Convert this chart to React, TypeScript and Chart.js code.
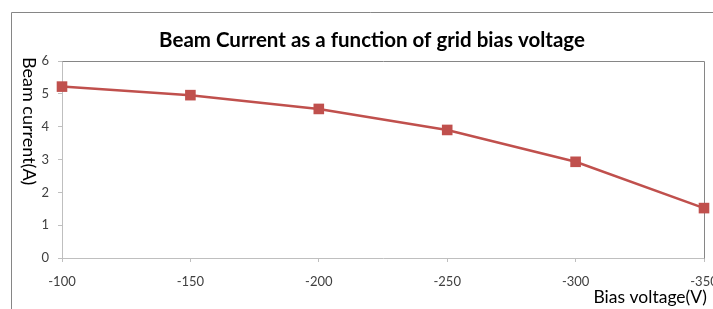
import React, { useEffect, useRef } from "react";
import { Chart, registerables } from "chart.js";

Chart.register(...registerables);

const biasVoltage = [-100, -150, -200, -250, -300, -350];
const beamCurrent = [5.22, 4.96, 4.54, 3.9, 2.93, 1.52];
const xMin = -350;
const xMax = -100;
const xStep = 50;
const yMin = 0;
const yMax = 6;
const yStep = 1;
const chartTitle = "Beam Current as a function of grid bias voltage";
const yAxisTitle = "Beam current(A)";
const xAxisTitle = "Bias voltage(V)";

const FONT = "Lato, 'Open Sans', sans-serif";

const decoPlugin = {
  id: "deco",
  beforeDraw(chart: any) {
    const ctx = chart.ctx;
    ctx.save();
    ctx.fillStyle = "#ffffff";
    ctx.fillRect(0, 0, chart.width, chart.height);
    ctx.strokeStyle = "#868686";
    ctx.lineWidth = 1;
    ctx.beginPath();
    ctx.moveTo(11.5, chart.height);
    ctx.lineTo(11.5, 12.5);
    ctx.lineTo(chart.width, 12.5);
    ctx.stroke();
    ctx.restore();
  },
  beforeDatasetsDraw(chart: any) {
    const ctx = chart.ctx;
    const a = chart.chartArea;
    ctx.save();
    // plot area border (top and right)
    ctx.strokeStyle = "#868686";
    ctx.lineWidth = 1;
    ctx.beginPath();
    ctx.moveTo(Math.round(a.left) + 0.5, Math.round(a.top) + 0.5);
    ctx.lineTo(Math.round(a.right) + 0.5, Math.round(a.top) + 0.5);
    ctx.lineTo(Math.round(a.right) + 0.5, Math.round(a.bottom) + 0.5);
    ctx.stroke();
    ctx.restore();
  },
  afterDraw(chart: any) {
    const ctx = chart.ctx;
    ctx.save();
    // title
    ctx.fillStyle = "#000000";
    ctx.font = `bold 20.5px ${FONT}`;
    ctx.textAlign = "center";
    ctx.textBaseline = "alphabetic";
    ctx.fillText(chartTitle, 372, 47);

    // y axis title rotated clockwise
    ctx.save();
    ctx.translate(29, 57);
    ctx.rotate(Math.PI / 2);
    ctx.font = `18px ${FONT}`;
    ctx.textAlign = "left";
    ctx.textBaseline = "middle";
    ctx.fillText(yAxisTitle, 0, 0);
    ctx.restore();

    // x axis title
    ctx.font = `17.5px ${FONT}`;
    ctx.textAlign = "right";
    ctx.textBaseline = "alphabetic";
    ctx.fillText(xAxisTitle, 707, 303);
    ctx.restore();
  },
};

export default function App() {
  const canvasRef = useRef<HTMLCanvasElement | null>(null);

  useEffect(() => {
    const canvas = canvasRef.current;
    if (!canvas) return;
    const chart = new Chart(canvas, {
      type: "line",
      data: {
        datasets: [
          {
            data: biasVoltage.map((x, i) => ({ x, y: beamCurrent[i] })),
            borderColor: "#C0504D",
            backgroundColor: "#C0504D",
            borderWidth: 2.5,
            pointStyle: "rect",
            pointRadius: 7.5,
            pointBorderWidth: 0,
            pointBackgroundColor: "#C0504D",
            tension: 0,
            clip: false,
          },
        ],
      },
      options: {
        responsive: false,
        animation: false,
        layout: { padding: { top: 61, left: 0, right: 26, bottom: 0 } },
        plugins: {
          legend: { display: false },
          title: { display: false },
          tooltip: { enabled: false },
        },
        scales: {
          x: {
            type: "linear",
            reverse: true,
            min: xMin,
            max: xMax,
            afterFit: (s: any) => {
              s.height = 51;
            },
            ticks: {
              stepSize: xStep,
              color: "#404040",
              font: { family: FONT, size: 13 },
              padding: 12,
              maxRotation: 0,
            },
            grid: {
              drawOnChartArea: false,
              tickLength: 4,
              color: "#BFBFBF",
            },
            border: { color: "#BFBFBF" },
          },
          y: {
            min: yMin,
            max: yMax,
            afterFit: (s: any) => {
              s.width = 62;
            },
            ticks: {
              stepSize: yStep,
              color: "#404040",
              font: { family: FONT, size: 13 },
              padding: 9,
            },
            grid: {
              drawOnChartArea: false,
              tickLength: 4,
              color: "#BFBFBF",
            },
            border: { color: "#BFBFBF" },
          },
        },
      },
      plugins: [decoPlugin],
    });
    return () => chart.destroy();
  }, []);

  return (
    <div
      style={{
        position: "absolute",
        left: 0,
        top: 0,
        width: 713,
        height: 309,
        overflow: "hidden",
        background: "#fff",
      }}
    >
      <canvas
        ref={canvasRef}
        width={730}
        height={309}
        style={{ width: 730, height: 309, display: "block" }}
      />
    </div>
  );
}
